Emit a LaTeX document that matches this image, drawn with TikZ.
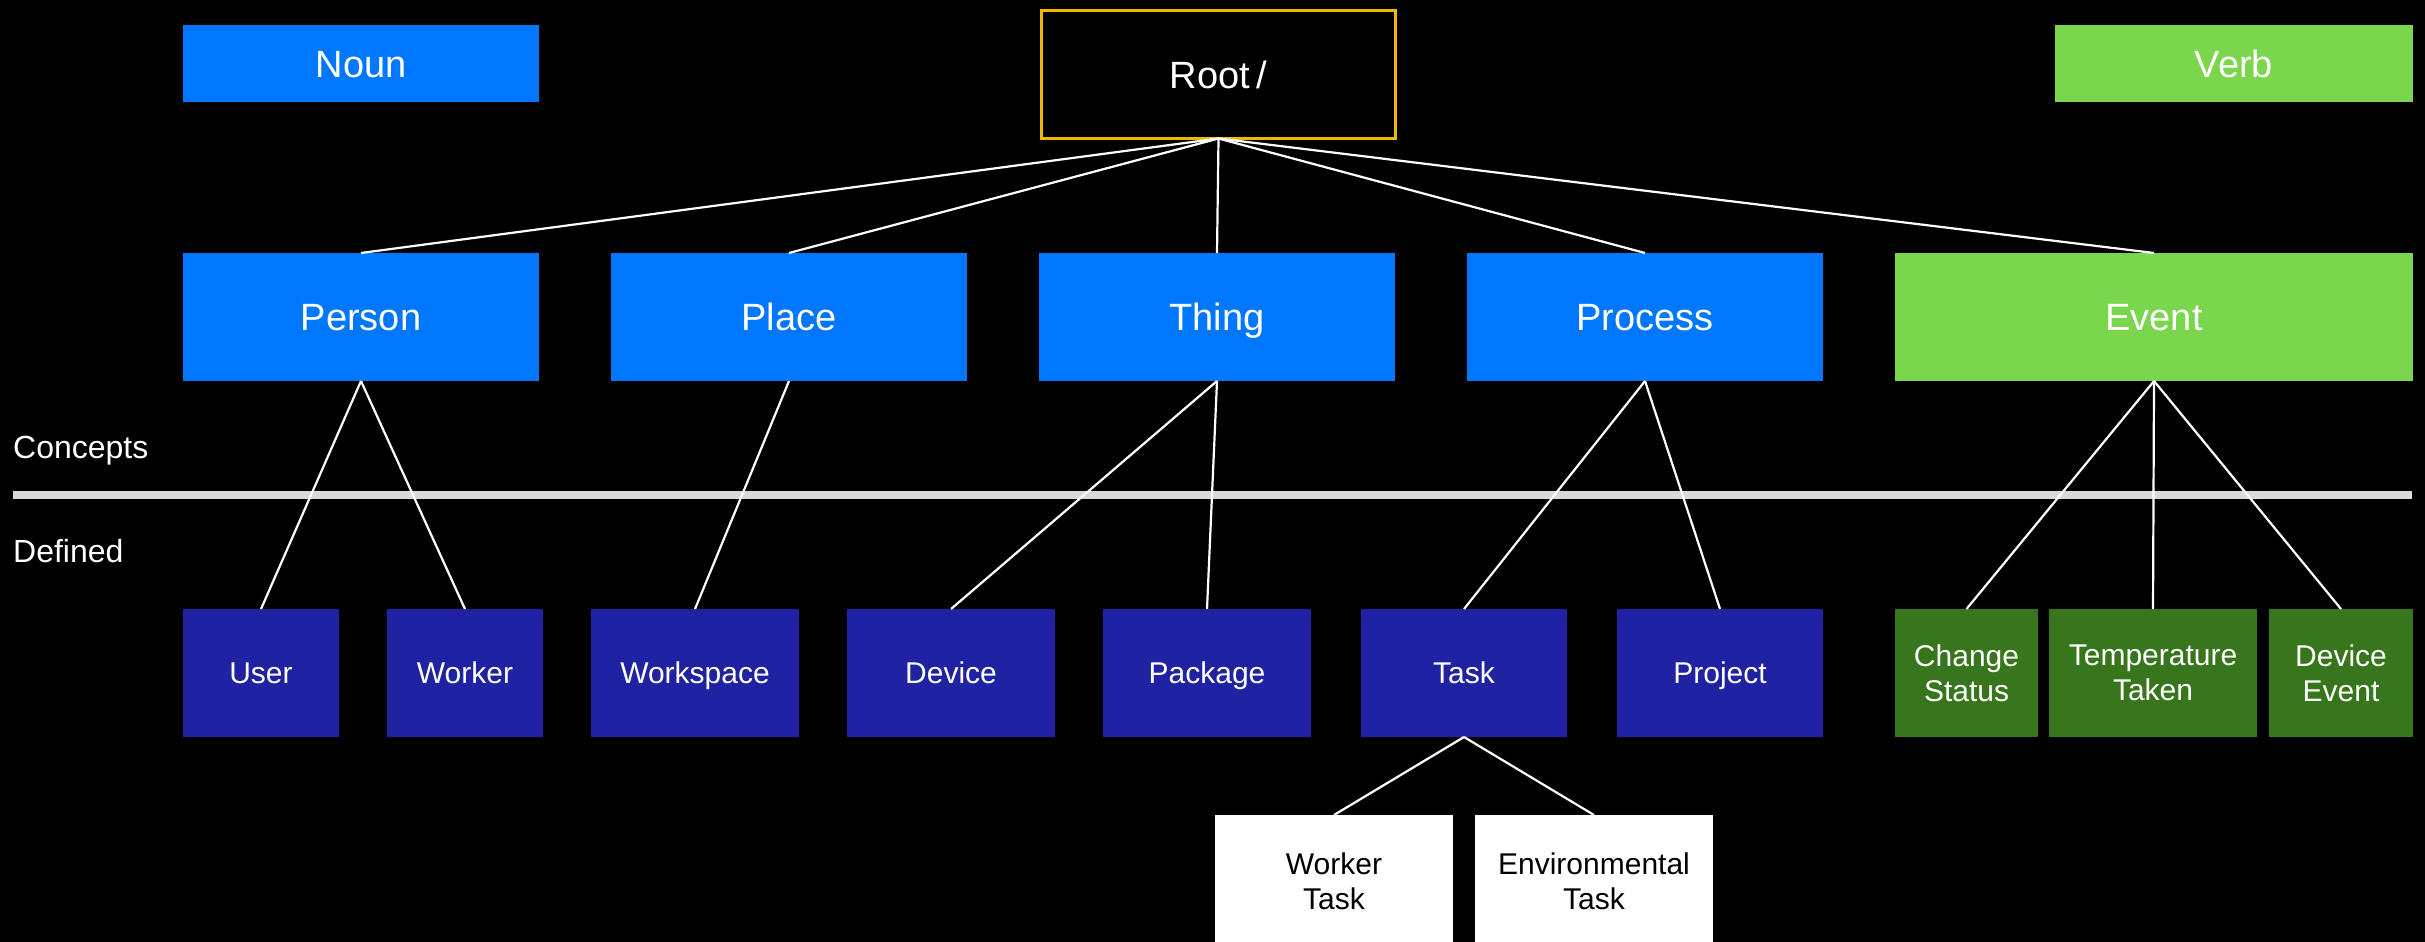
\documentclass[tikz,border=0pt]{standalone}
\usepackage{fontspec}
\setmainfont{Liberation Sans}
\definecolor{nblue}{RGB}{0,119,255}
\definecolor{vgreen}{RGB}{122,214,76}
\definecolor{dblue}{RGB}{31,35,163}
\definecolor{dgreen}{RGB}{56,118,29}
\definecolor{rootor}{RGB}{241,184,0}
\definecolor{sepgray}{RGB}{217,217,217}
\tikzset{
  box/.style={rectangle, inner sep=0pt, outer sep=0pt, align=center, text=white},
  bigtext/.style={font=\fontsize{38}{44}\selectfont, text height=27.2pt, text depth=0pt},
  smalltext/.style={font=\fontsize{30}{35}\selectfont, text height=21.5pt, text depth=0pt},
  topbox/.style={box, bigtext, fill=nblue, minimum height=128pt},
  verbbox/.style={box, bigtext, fill=vgreen, minimum height=128pt},
  legendbox/.style={box, bigtext, minimum height=77pt},
  defbox/.style={box, smalltext, fill=dblue, minimum height=128pt},
  evbox/.style={box, fill=dgreen, minimum height=128pt, font=\fontsize{30}{35}\selectfont},
  subbox/.style={box, fill=white, text=black, minimum height=132pt, font=\fontsize{30}{35}\selectfont},
  edge/.style={draw=white, line width=2.2pt},
  lbl/.style={inner sep=0pt, anchor=west, text=white, font=\fontsize{32}{38}\selectfont, text height=22.9pt, text depth=0pt}
}
\begin{document}
\begin{tikzpicture}[x=1pt, y=-1pt]
\fill[black] (0,0) rectangle (2425,942);
\useasboundingbox (0,0) rectangle (2425,942);
\begin{scope}
\clip (0,0) rectangle (2425,942);
% legend
\node[legendbox, fill=nblue, minimum width=356pt] (noun) at (361,63.5) {Noun};
\node[legendbox, fill=vgreen, minimum width=358pt] (verb) at (2234,63.5) {Verb};
% root
\node[box, bigtext, draw=rootor, line width=3pt, minimum width=354pt, minimum height=128pt] (root) at (1218.5,74.5) {Root\,/};
% top level
\node[topbox, minimum width=356pt] (person) at (361,317) {Person};
\node[topbox, minimum width=356pt] (place) at (789,317) {Place};
\node[topbox, minimum width=356pt] (thing) at (1217,317) {Thing};
\node[topbox, minimum width=356pt] (process) at (1645,317) {Process};
\node[verbbox, minimum width=518pt] (event) at (2154,317) {Event};
% separator
\coordinate (sepL) at (13,495);
\coordinate (sepR) at (2412,495);
\draw[sepgray, line width=8pt] (sepL) -- (sepR);
\node[lbl] (concepts) at (13,447.5) {Concepts};
\node[lbl] (defined) at (13,551) {Defined};
% defined row
\node[defbox, minimum width=156pt] (user) at (261,673) {User};
\node[defbox, minimum width=156pt] (worker) at (465,673) {Worker};
\node[defbox, minimum width=208pt] (workspace) at (695,673) {Workspace};
\node[defbox, minimum width=208pt] (device) at (951,673) {Device};
\node[defbox, minimum width=208pt] (package) at (1207,673) {Package};
\node[defbox, minimum width=206pt] (task) at (1464,673) {Task};
\node[defbox, minimum width=206pt] (project) at (1720,673) {Project};
\node[evbox, minimum width=143pt] (change) at (1966.5,673) {Change\\Status};
\node[evbox, minimum width=208pt] (temp) at (2153,673) {Temperature\\Taken};
\node[evbox, minimum width=144pt] (devev) at (2341,673) {Device\\Event};
% sub tasks
\node[subbox, minimum width=238pt] (wtask) at (1334,881) {Worker\\Task};
\node[subbox, minimum width=238pt] (etask) at (1594,881) {Environmental\\Task};
% edges
\foreach \c in {person,place,thing,process,event}
  \draw[edge] (root.south) -- (\c.north);
\draw[edge] (person.south) -- (user.north);
\draw[edge] (person.south) -- (worker.north);
\draw[edge] (place.south) -- (workspace.north);
\draw[edge] (thing.south) -- (device.north);
\draw[edge] (thing.south) -- (package.north);
\draw[edge] (process.south) -- (task.north);
\draw[edge] (process.south) -- (project.north);
\draw[edge] (event.south) -- (change.north);
\draw[edge] (event.south) -- (temp.north);
\draw[edge] (event.south) -- (devev.north);
\draw[edge] (task.south) -- (wtask.north);
\draw[edge] (task.south) -- (etask.north);
\end{scope}
\end{tikzpicture}
\end{document}
